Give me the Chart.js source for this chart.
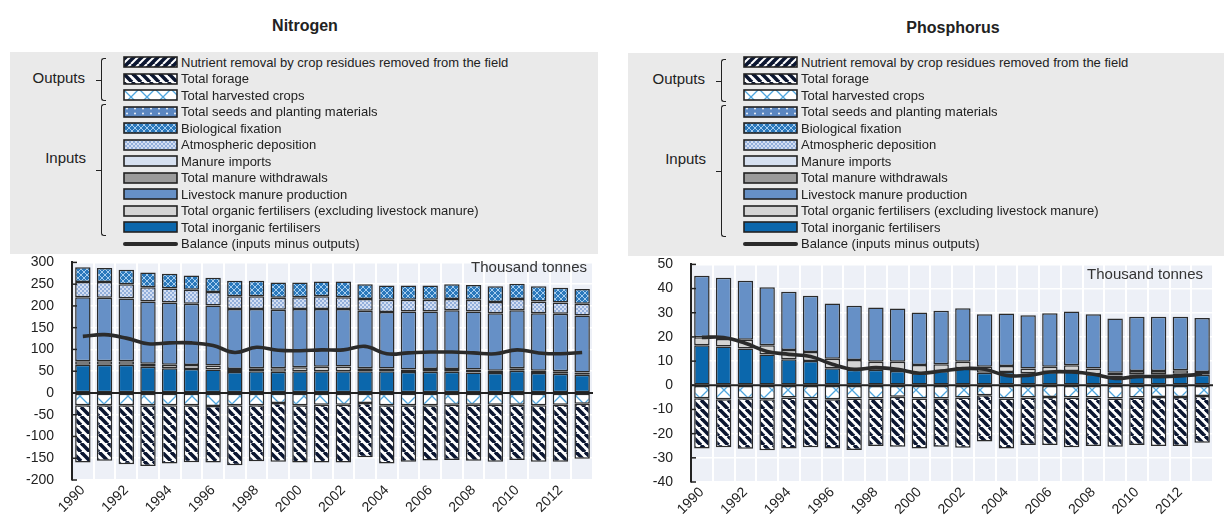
<!doctype html>
<html lang="en">
<head>
<meta charset="utf-8">
<title>Nitrogen and phosphorus balance</title>
<script src="https://cdn.jsdelivr.net/npm/chart.js@4.4.1/dist/chart.umd.min.js"></script>
<style>
  html, body { margin: 0; padding: 0; background: #fff; }
  body { width: 1224px; height: 516px; position: relative; overflow: hidden;
         font-family: "Liberation Sans", Arial, sans-serif; color: #222; }
  .panel { position: absolute; top: 0; height: 516px; }
  .title { position: absolute; width: 200px; text-align: center; font-weight: bold; font-size: 16px; }
  .legend { position: absolute; background: #eaeaea; }
  .row { position: absolute; left: 123px; height: 16px; display: flex; align-items: center;
         font-size: 13px; white-space: nowrap; }
  .row canvas { margin-right: 3px; }
  .group { position: absolute; width: 70px; text-align: right; font-size: 15px; line-height: 18px; }
  .brace { position: absolute; left: 101px; width: 4px; border: 1.5px solid #222; border-right: none;
           border-radius: 3px 0 0 3px; }
  .brace::after { content: ''; position: absolute; left: -6px; top: 50%; width: 5px; border-top: 1.5px solid #222; }
  .panel canvas.chart { position: absolute; left: 0; }
</style>
</head>
<body>
  <div class="panel" id="left" style="left:0; width:600px">
    <div class="title" style="left:205px; top:17px">Nitrogen</div>
    <div class="legend" style="left:10px; top:52px; width:588px; height:202px"></div>
    <div class="group" style="left:15px; top:69px">Outputs</div>
    <div class="brace" style="top:58px; height:41px"></div>
    <div class="group" style="left:16px; top:149px">Inputs</div>
    <div class="brace" style="top:104px; height:130px"></div>
    <canvas class="chart" id="nChart" width="600" height="280" style="top:236px"></canvas>
  </div>
  <div class="panel" id="right" style="left:620px; width:604px">
    <div class="title" style="left:233px; top:19px">Phosphorus</div>
    <div class="legend" style="left:8px; top:53px; width:596px; height:203px"></div>
    <div class="group" style="left:15px; top:70px">Outputs</div>
    <div class="brace" style="top:59px; height:41px"></div>
    <div class="group" style="left:16px; top:150px">Inputs</div>
    <div class="brace" style="top:105px; height:130px"></div>
    <canvas class="chart" id="pChart" width="604" height="278" style="top:238px"></canvas>
  </div>

<script>
const years = ['1990','1991','1992','1993','1994','1995','1996','1997','1998','1999','2000','2001',
               '2002','2003','2004','2005','2006','2007','2008','2009','2010','2011','2012','2013'];

// Nitrogen, thousand tonnes
const nInorganic   = [65,65,65,60,57,55,54,48,50,49,50,50,50,50,50,48,49,49,47,46,51,46,44,42];
const nOrganic     = [8,8,8,7,8,9,9,7,7,8,9,10,11,7,6,6,6,6,7,5,6,5,6,5];
const nLivestock   = [147,146,144,143,143,141,138,138,136,134,134,133,132,132,130,133,132,135,133,132,133,132,132,131];
const nAtmospheric = [35,36,33,33,32,32,31,29,29,28,27,29,27,27,28,27,27,26,27,26,26,27,26,27];
const nBiological  = [34,32,33,34,34,33,33,36,36,35,34,34,36,34,33,33,33,34,34,36,35,35,34,34];
const nHarvested   = [-28,-28,-28,-28,-28,-28,-30,-28,-28,-23,-28,-27,-27,-23,-28,-28,-28,-27,-27,-27,-27,-28,-27,-25];
const nForage      = [-132,-128,-136,-140,-134,-131,-130,-138,-129,-135,-132,-133,-133,-125,-134,-130,-127,-127,-129,-131,-127,-130,-131,-126];
const nBalance     = [130,134,126,113,115,115,109,93,105,98,97,99,99,107,90,92,94,94,92,90,99,92,90,93];

// Phosphorus, thousand tonnes
const pInorganic = [16.6,16.0,15.2,12.7,10.8,10.0,7.0,6.4,6.4,5.9,5.0,5.9,7.0,5.2,5.5,5.0,5.5,5.9,4.6,4.1,4.6,4.6,4.8,4.4];
const pOrganic   = [3.3,3.1,3.6,3.9,3.8,3.8,4.0,4.1,3.3,3.8,3.4,2.8,2.7,2.5,2.5,1.9,2.2,2.4,2.3,1.1,1.3,1.3,1.4,1.1];
const pLivestock = [25.4,25.4,24.4,23.9,24.1,23.2,22.8,22.4,22.5,22.1,21.7,22.1,22.2,21.7,21.7,22.1,22.1,22.2,22.5,22.4,22.4,22.4,22.1,22.3];
const pHarvested = [-5.4,-5.8,-5.4,-5.8,-5.1,-5.5,-5.8,-5.5,-5.5,-4.7,-5.5,-5.5,-5.1,-4.1,-5.5,-5.1,-4.8,-5.1,-5.1,-5.5,-5.1,-4.8,-4.8,-4.4];
const pForage    = [-20.7,-19.8,-20.8,-21.1,-21.0,-20.1,-20.3,-21.3,-19.6,-20.7,-20.6,-19.9,-20.7,-19.2,-20.6,-19.6,-19.9,-20.5,-20.0,-19.9,-19.6,-20.3,-20.3,-19.4];
const pBalance   = [19.8,19.8,17.4,14.0,12.8,11.9,8.7,6.6,7.3,6.6,5.0,5.9,6.9,6.6,4.1,4.1,5.5,5.5,4.6,2.8,3.6,3.6,3.9,4.6];

const legendItems = [
  ['Nutrient removal by crop residues removed from the field', 'residues'],
  ['Total forage', 'forage'],
  ['Total harvested crops', 'harvested'],
  ['Total seeds and planting materials', 'seeds'],
  ['Biological fixation', 'bio'],
  ['Atmospheric deposition', 'atmos'],
  ['Manure imports', 'imports'],
  ['Total manure withdrawals', 'withdrawals'],
  ['Livestock manure production', 'livestock'],
  ['Total organic fertilisers (excluding livestock manure)', 'organic'],
  ['Total inorganic fertilisers', 'inorganic'],
  ['Balance (inputs minus outputs)', 'balance'],
];

// small pattern tiles for the hatched series
function tile(w, h, draw) {
  const c = document.createElement('canvas');
  c.width = w; c.height = h;
  draw(c.getContext('2d'), w, h);
  return c.getContext('2d').createPattern(c, 'repeat');
}

const fills = {
  residues: tile(8, 8, (g, w, h) => {
    g.fillStyle = '#0b1631'; g.fillRect(0, 0, w, h);
    g.strokeStyle = '#fff'; g.lineWidth = 2;
    [-8, 0, 8].forEach(k => { g.beginPath(); g.moveTo(k, h); g.lineTo(k + w, 0); g.stroke(); });
  }),
  forage: tile(9, 9, (g, w, h) => {
    g.fillStyle = '#fff'; g.fillRect(0, 0, w, h);
    g.strokeStyle = '#0b1631'; g.lineWidth = 3.6;
    [-9, 0, 9].forEach(k => { g.beginPath(); g.moveTo(k, 0); g.lineTo(k + w, h); g.stroke(); });
  }),
  harvested: tile(16, 16, (g, w, h) => {
    g.fillStyle = '#fff'; g.fillRect(0, 0, w, h);
    g.strokeStyle = '#4ea5dd'; g.lineWidth = 1.3;
    g.beginPath(); g.moveTo(0, 0); g.lineTo(w, h); g.moveTo(w, 0); g.lineTo(0, h); g.stroke();
  }),
  seeds: tile(8, 5, (g, w, h) => {
    g.fillStyle = '#5a86c0'; g.fillRect(0, 0, w, h);
    g.fillStyle = '#fff'; g.beginPath(); g.arc(4, 2.5, 0.9, 0, Math.PI * 2); g.fill();
  }),
  bio: tile(6, 6, (g, w, h) => {
    g.fillStyle = '#2a78bb'; g.fillRect(0, 0, w, h);
    g.strokeStyle = '#a6cdef'; g.lineWidth = 1;
    g.beginPath(); g.moveTo(0, 0); g.lineTo(w, h); g.moveTo(w, 0); g.lineTo(0, h); g.stroke();
  }),
  atmos: tile(4, 4, (g) => {
    g.fillStyle = '#d3def2'; g.fillRect(0, 0, 4, 4);
    g.fillStyle = '#93afdb'; g.fillRect(0, 0, 2, 2); g.fillRect(2, 2, 2, 2);
  }),
  imports: '#d6e0f0',
  withdrawals: '#9b9b9b',
  livestock: '#6690c6',
  organic: '#d4d4d4',
  inorganic: '#0b67ac',
};

// legend rows drawn as html with canvas swatches
function buildLegend(panel) {
  legendItems.forEach(([label, key], i) => {
    const row = document.createElement('div');
    row.className = 'row';
    row.style.top = (54 + 16.5 * i) + 'px';
    const sw = document.createElement('canvas');
    sw.width = 55; sw.height = 12;
    const g = sw.getContext('2d');
    if (key === 'balance') {
      g.strokeStyle = '#2b2b2b'; g.lineWidth = 4; g.lineCap = 'round';
      g.beginPath(); g.moveTo(2, 6); g.lineTo(53, 6); g.stroke();
    } else {
      g.fillStyle = fills[key]; g.fillRect(1, 1, 53, 10);
      g.strokeStyle = '#222'; g.lineWidth = 1.6; g.strokeRect(1, 1, 53, 10);
    }
    row.appendChild(sw);
    row.appendChild(document.createTextNode(label));
    panel.appendChild(row);
  });
}
buildLegend(document.getElementById('left'));
buildLegend(document.getElementById('right'));

Chart.defaults.font.family = '"Liberation Sans", Arial, sans-serif';
Chart.defaults.color = '#222';

const plotDecor = {
  id: 'plotDecor',
  beforeDraw(chart) {
    const { ctx, chartArea: a } = chart;
    ctx.save();
    ctx.fillStyle = '#edf0f7';
    ctx.fillRect(a.left, a.top, a.right - a.left, a.bottom - a.top);
    ctx.restore();
  },
  afterDatasetsDraw(chart, args, opts) {
    const { ctx, chartArea: a } = chart;
    const y = chart.scales.y;
    ctx.save();
    ctx.strokeStyle = '#222';
    ctx.lineWidth = 2;
    const z = y.getPixelForValue(0);
    ctx.beginPath(); ctx.moveTo(a.left, z); ctx.lineTo(a.right, z); ctx.stroke();
    ctx.lineWidth = 1.5;
    y.ticks.forEach(t => {
      const p = y.getPixelForValue(t.value);
      ctx.beginPath(); ctx.moveTo(a.left, p); ctx.lineTo(a.left + 5, p); ctx.stroke();
    });
    ctx.fillStyle = '#333';
    ctx.font = '15px "Liberation Sans", Arial, sans-serif';
    ctx.textAlign = 'right';
    ctx.fillText('Thousand tonnes', a.right - opts.dx, a.top + opts.dy);
    ctx.restore();
  }
};

function bar(label, data, key) {
  return { type: 'bar', label, data, backgroundColor: fills[key], borderColor: '#2a2a2a',
           borderWidth: 1.5, borderSkipped: false, barPercentage: 0.71, categoryPercentage: 1,
           stack: 'main', order: 1 };
}

function makeChart(id, sets, balance, yMin, yMax, step, pad, yWidth, xHeight, unit) {
  return new Chart(document.getElementById(id), {
    data: {
      labels: years,
      datasets: [
        ...sets,
        { type: 'line', label: 'Balance (inputs minus outputs)', data: balance, borderColor: '#2b2b2b',
          borderWidth: 3.6, tension: 0.4, pointRadius: 0, stack: 'balance', order: 0 }
      ]
    },
    options: {
      responsive: false,
      animation: false,
      devicePixelRatio: 1,
      layout: { padding: pad },
      plugins: { legend: { display: false }, tooltip: { enabled: false }, plotDecor: unit },
      scales: {
        x: {
          stacked: true,
          offset: true,
          grid: { offset: true, color: '#fff', lineWidth: 2, drawTicks: false },
          border: { display: false },
          ticks: { autoSkip: false, minRotation: 45, maxRotation: 45, padding: 2,
                   font: { size: 14 }, color: '#222',
                   callback: (v, i) => (i % 2 === 0 ? years[i] : '') },
          afterFit: s => { s.height = xHeight; }
        },
        y: {
          stacked: true,
          min: yMin, max: yMax,
          ticks: { stepSize: step, padding: 18, font: { size: 14 }, color: '#222' },
          grid: { color: '#fff', lineWidth: 1.5, drawTicks: false },
          border: { display: true, color: '#222', width: 2 },
          afterFit: s => { s.width = yWidth; }
        }
      }
    },
    plugins: [plotDecor]
  });
}

makeChart('nChart', [
  bar('Total inorganic fertilisers', nInorganic, 'inorganic'),
  bar('Total organic fertilisers (excluding livestock manure)', nOrganic, 'organic'),
  bar('Livestock manure production', nLivestock, 'livestock'),
  bar('Atmospheric deposition', nAtmospheric, 'atmos'),
  bar('Biological fixation', nBiological, 'bio'),
  bar('Total harvested crops', nHarvested, 'harvested'),
  bar('Total forage', nForage, 'forage'),
], nBalance, -200, 300, 50, { top: 0, right: 7, left: 0, bottom: 0 }, 72, 36, { dx: 6, dy: 10 });

makeChart('pChart', [
  bar('Total inorganic fertilisers', pInorganic, 'inorganic'),
  bar('Total organic fertilisers (excluding livestock manure)', pOrganic, 'organic'),
  bar('Livestock manure production', pLivestock, 'livestock'),
  bar('Total harvested crops', pHarvested, 'harvested'),
  bar('Total forage', pForage, 'forage'),
], pBalance, -40, 50, 10, { top: 0, right: 11, left: 0, bottom: 0 }, 71, 34, { dx: 10, dy: 15 });
</script>
</body>
</html>
